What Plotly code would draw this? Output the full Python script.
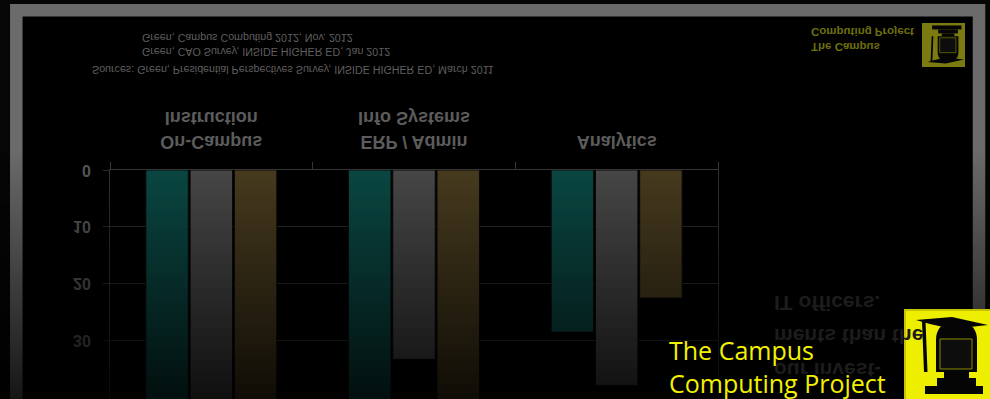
import plotly.graph_objects as go

# ---------------- data ----------------
categories = ["On-Campus<br>Instruction", "ERP / Admin<br>Info Systems", "Analytics"]
series_names = ["Presidents", "CAOs", "IT Officers"]
presidents = [55, 48, 28.6]
caos = [50, 33.4, 38]
it_officers = [48, 45, 22.6]
y_ticks = [0, 10, 20, 30]
sources = [
    "Green, Campus Computing 2012, Nov. 2012",
    "Green, CAO Survey, INSIDE HIGHER ED, Jan 2012",
    "Sources: Green, Presidential Perspectives Survey, INSIDE HIGHER ED, March 2011",
]
faded_note = ["IT officers.", "ments than the", "our invest-"]
logo_text = "The Campus<br>Computing Project"

# ---------------- helpers ----------------
W, H = 990, 399


def px(x):
    return x / W


def py(y):
    return 1 - y / H


FONT = "Liberation Sans, Arial, sans-serif"
colors = ["#0b4b46", "#4b4b4b", "#4b3e20"]

fig = go.Figure()
for name, vals, c in zip(series_names, [presidents, caos, it_officers], colors):
    fig.add_trace(go.Bar(x=categories, y=vals, name=name, marker_color=c,
                         marker_line_color="#0a0a0a", marker_line_width=1,
                         showlegend=False, hoverinfo="skip"))

shapes = []
# slide frame
shapes.append(dict(type="rect", xref="paper", yref="paper",
                   x0=px(16.3), x1=px(979), y0=py(10.3), y1=py(440),
                   line=dict(color="#6b6b6b", width=12.5), fillcolor="#000000",
                   layer="below"))

# vertical fade (reflection effect)
for y in range(150, 399, 3):
    t = (y - 150) / 249
    a = 0.8 * t
    shapes.append(dict(type="rect", xref="paper", yref="paper",
                       x0=0, x1=1, y0=py(y + 3), y1=py(y),
                       line=dict(width=0), fillcolor=f"rgba(0,0,0,{a:.3f})",
                       layer="above"))


# logo icon (defined in pixel coords of the large logo box 905..990 x 310..399)
def icon_parts():
    return [
        ([("M", 916, 320), ("L", 952, 317), ("L", 988, 325), ("L", 952, 329), ("L", 930, 324), ("Z",)], "#050505", None),
        ([("M", 922, 321), ("L", 925.5, 321), ("L", 927.5, 372), ("L", 924, 372), ("Z",)], "#050505", None),
        ([("M", 936, 372), ("L", 936, 340), ("C", 936, 326, 946, 321, 956.5, 321),
          ("C", 967, 321, 977, 326, 977, 340), ("L", 977, 372), ("Z",)], "#050505", None),
        ([("M", 940, 339), ("L", 972, 339), ("L", 972, 369), ("L", 940, 369), ("Z",)], "#0d0d0d", "#8a8a00"),
        ([("M", 944, 372), ("L", 969, 372), ("L", 969, 378), ("L", 944, 378), ("Z",)], "#050505", None),
        ([("M", 937, 378), ("L", 976, 378), ("L", 976, 386), ("L", 937, 386), ("Z",)], "#050505", None),
        ([("M", 925, 386), ("L", 983, 386), ("L", 983, 394), ("L", 925, 394), ("Z",)], "#050505", None),
    ]


def make_icon(mapper, lw):
    out = []
    for cmds, fill, line in icon_parts():
        s = ""
        for c in cmds:
            if c[0] == "Z":
                s += " Z"
                continue
            pts = c[1:]
            coords = []
            for i in range(0, len(pts), 2):
                X, Y = mapper(pts[i], pts[i + 1])
                coords.append(f"{px(X):.5f},{py(Y):.5f}")
            s += f" {c[0]} " + " ".join(coords)
        out.append(dict(type="path", xref="paper", yref="paper", path=s.strip(),
                        fillcolor=fill,
                        line=dict(color=line if line else fill, width=lw if line else 0),
                        layer="above"))
    return out


# small, flipped logo at top right
shapes.append(dict(type="rect", xref="paper", yref="paper",
                   x0=px(922), x1=px(965), y0=py(67), y1=py(23),
                   fillcolor="#7b7b12", line=dict(width=0), layer="above"))
shapes += make_icon(lambda x, y: (922 + (x - 905) * 43 / 85, 67 - (y - 310) * 44 / 89), 0.6)

# big bright logo at bottom right
shapes.append(dict(type="rect", xref="paper", yref="paper",
                   x0=px(905), x1=px(992), y0=py(402), y1=py(310),
                   fillcolor="#eeee00", line=dict(color="#c4c400", width=2), layer="above"))
shapes += make_icon(lambda x, y: (x, y), 1)

annotations = []
flip_idx = []


def add_ann(text, x, y, size, color, anchor="left", weight="normal", family=FONT, flip=True):
    if flip:
        flip_idx.append(len(annotations))
    annotations.append(dict(text=text, xref="paper", yref="paper", x=px(x), y=py(y),
                            xanchor=anchor, yanchor="middle", showarrow=False,
                            font=dict(size=size, color=color, family=family, weight=weight),
                            align="left"))


src_pos = [(140, 38.5), (140, 52.5), (90, 70)]
for s, (sx, sy) in zip(sources, src_pos):
    add_ann(s, sx, sy, 10.7, "#5f5f5f")

add_ann("The Campus<br>Computing Project", 809, 39.5, 11.5, "#6e6e0c", weight="bold")

for s, fy in zip(faded_note, [303, 336, 370]):
    add_ann(s, 772, fy, 21, "#1c1c1c", weight="bold")

add_ann(logo_text, 667, 366, 25, "#f2f200", family="Open Sans, sans-serif", flip=False)

fig.update_layout(
    template="none",
    width=W, height=H,
    margin=dict(l=0, r=0, t=0, b=0, pad=0, autoexpand=False),
    paper_bgcolor="#060606", plot_bgcolor="rgba(0,0,0,0)",
    barmode="group", bargap=0.345, bargroupgap=0.04,
    shapes=shapes, annotations=annotations,
    xaxis=dict(domain=[px(110), px(718)], side="top", showline=True, linecolor="#383838",
               linewidth=1, ticks="outside", tickson="boundaries", ticklen=7, automargin=False,
               tickcolor="#383838", showgrid=False, ticklabelstandoff=14,
               tickfont=dict(size=18, color="#5c5c5c", family=FONT, weight="bold")),
    yaxis=dict(domain=[0, py(170)], range=[40.4, 0], tickvals=y_ticks, automargin=False,
               showgrid=True, gridcolor="#2c2c2c", gridwidth=1, zeroline=False,
               showline=True, mirror=True, linecolor="#333333", ticks="outside",
               ticklen=6, tickcolor="#2c2c2c", ticklabelstandoff=9,
               tickfont=dict(size=16, color="#5a5a5a", family=FONT, weight="bold")),
)

js = """
document.documentElement.style.margin = '0';
document.body.style.margin = '0';
document.body.style.overflow = 'hidden';
var gd = document.getElementById('{plot_id}');
function flip(el) {
  var b = el.getBBox();
  var cy = b.y + b.height / 2;
  var t = el.getAttribute('transform') || '';
  el.setAttribute('transform', t + ' translate(0,' + (2 * cy) + ') scale(1,-1)');
}
gd.querySelectorAll('.xtick text, .ytick text').forEach(flip);
FLIPIDX.forEach(function (i) {
  var a = gd.querySelector('.annotation[data-index="' + i + '"] text.annotation-text');
  if (a) { flip(a); }
});
""".replace("FLIPIDX", str(flip_idx))

fig.write_html("out.html", post_script=js, config={"displayModeBar": False})
